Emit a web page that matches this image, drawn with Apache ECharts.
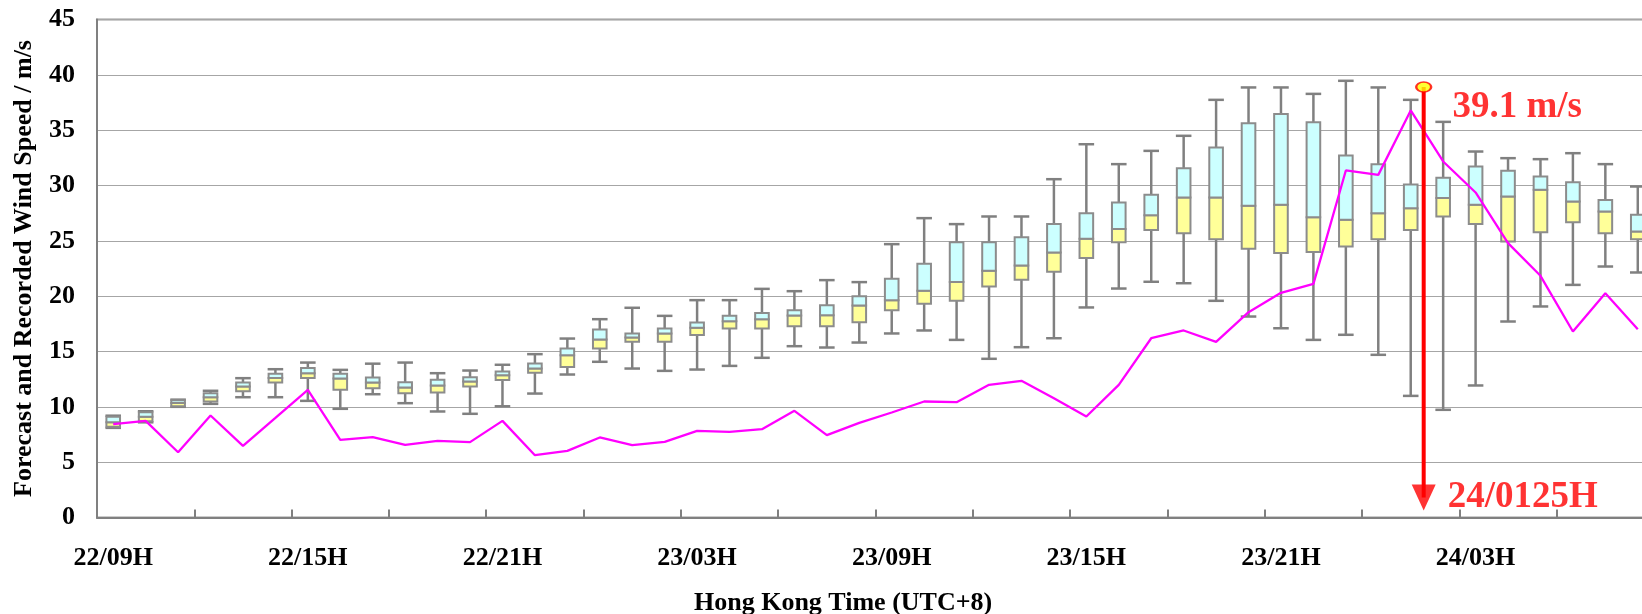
<!DOCTYPE html>
<html>
<head>
<meta charset="utf-8">
<script src="https://cdn.jsdelivr.net/npm/echarts@6/dist/echarts.min.js"></script>
<style>
html,body{margin:0;padding:0;background:#fff;}
#chart{width:1642px;height:614px;}
</style>
</head>
<body>
<div id="chart"></div>
<script>
// Hourly categories (Hong Kong time)
var categories = [
  "22/09H","22/10H","22/11H","22/12H","22/13H","22/14H","22/15H","22/16H","22/17H","22/18H","22/19H","22/20H",
  "22/21H","22/22H","22/23H","23/00H","23/01H","23/02H","23/03H","23/04H","23/05H","23/06H","23/07H","23/08H",
  "23/09H","23/10H","23/11H","23/12H","23/13H","23/14H","23/15H","23/16H","23/17H","23/18H","23/19H","23/20H",
  "23/21H","23/22H","23/23H","24/00H","24/01H","24/02H","24/03H","24/04H","24/05H","24/06H","24/07H","24/08H"
];
// Forecast distribution (m/s)
var whiskerMin = [8.1,8.6,10.0,10.27,10.87,10.87,10.54,9.82,11.14,10.33,9.58,9.37,
  10.05,11.2,12.92,14.07,13.46,13.25,13.37,13.7,14.43,15.48,15.36,15.81,
  16.63,16.9,16.05,14.34,15.39,16.2,18.98,20.69,21.3,21.17,19.58,18.16,
  17.1,16.05,16.51,14.7,10.99,9.73,11.93,17.71,19.07,21.02,22.68,22.14];
var quartile1 = [8.2,8.7,10.05,10.48,11.4,12.2,12.6,11.54,11.69,11.23,11.3,11.84,
  12.42,13.07,13.61,15.27,15.87,15.87,16.48,17.08,17.08,17.29,17.29,17.65,
  18.73,19.31,19.58,20.87,21.48,22.2,23.46,24.88,25.99,25.69,25.15,24.28,
  23.89,23.98,24.49,25.15,25.99,27.2,26.51,24.94,25.78,26.69,25.69,25.15];
var median = [8.6,9.1,10.35,10.87,11.84,12.6,13.04,12.56,12.2,11.75,11.93,12.29,
  12.85,13.46,14.67,16.08,16.27,16.63,17.14,17.74,17.92,18.25,18.28,19.16,
  19.64,20.48,21.27,22.29,22.77,23.95,25.18,26.08,27.32,28.92,28.92,28.16,
  28.25,27.14,26.9,27.5,27.95,28.86,28.25,29.01,29.61,28.55,27.65,25.84];
var quartile3 = [9.1,9.5,10.6,11.23,12.2,13.0,13.5,13.0,12.65,12.23,12.44,12.68,
  13.2,13.92,15.27,16.99,16.63,17.08,17.62,18.22,18.49,18.73,19.19,20.0,
  21.57,22.92,24.88,24.88,25.33,26.51,27.5,28.46,29.16,31.57,33.43,35.63,
  36.45,35.72,32.71,31.93,30.09,30.69,31.72,31.33,30.81,30.3,28.7,27.35];
var whiskerMax = [9.2,9.6,10.65,11.45,12.59,13.4,14.0,13.34,13.9,14.0,13.04,13.28,
  13.8,14.76,16.17,17.92,18.95,18.22,19.64,19.64,20.66,20.45,21.45,21.27,
  24.7,27.05,26.51,27.2,27.2,30.57,33.73,31.93,33.13,34.49,37.74,38.86,
  38.86,38.28,39.46,38.86,37.74,35.75,33.07,32.47,32.38,32.92,31.93,29.91];
// Recorded wind speed (m/s)
var recorded = [8.43,8.73,5.9,9.22,6.48,9.0,11.54,7.02,7.26,6.57,6.93,6.81,
  8.73,5.63,6.02,7.23,6.54,6.84,7.83,7.74,7.98,9.64,7.44,8.55,
  9.49,10.48,10.42,11.99,12.35,10.78,9.13,11.99,16.2,16.9,15.87,18.55,
  20.3,21.11,31.36,30.96,36.78,32.17,29.37,24.79,21.84,16.81,20.27,17.02];
// Peak annotation
var peakTimeIndex = 40.4;      // 24/0125H as fractional hour index
var peakMarkerValue = 38.9;
var peakLabel = "39.1 m/s";
var peakTimeLabel = "24/0125H";
var arrowTipValue = 1.8;
var yTicks = [0,5,10,15,20,25,30,35,40,45];

var boxData = categories.map(function(c, i){
  return [i, whiskerMin[i], quartile1[i], median[i], quartile3[i], whiskerMax[i]];
});

var GREY = '#808080';
var FONT = '"Liberation Serif","Times New Roman",serif';

var chart = echarts.init(document.getElementById('chart'), null, {renderer:'canvas'});
chart.setOption({
  animation: false,
  backgroundColor: '#ffffff',
  grid: {left: 97, top: 19.5, right: -12, bottom: 96.5, outerBoundsMode: 'none', containLabel: false,
    show: true, borderColor: '#999999', borderWidth: 2, backgroundColor: 'transparent'},
  xAxis: [{
    type: 'category',
    data: categories,
    boundaryGap: true,
    z: 10,
    axisLine: {lineStyle: {color: GREY, width: 2}},
    axisTick: {show: true, inside: true, length: 8, lineStyle: {color: GREY, width: 2},
      interval: function(i){ return i % 3 === 0; }},
    axisLabel: {interval: function(i){ return i % 6 === 0; }, margin: 28,
      fontFamily: FONT, fontWeight: 'bold', fontSize: 26, color: '#000'},
    splitLine: {show: false}
  },{
    type: 'value', min: -0.5, max: categories.length - 0.5, show: false
  }],
  yAxis: {
    type: 'value', min: yTicks[0], max: yTicks[yTicks.length-1], interval: 5,
    name: 'Forecast and Recorded Wind Speed / m/s',
    nameLocation: 'middle', nameGap: 60, nameRotate: 90,
    nameTextStyle: {fontFamily: FONT, fontWeight: 'bold', fontSize: 26, color: '#000'},
    axisLine: {show: true, onZero: false, lineStyle: {color: GREY, width: 2}},
    axisTick: {show: false},
    axisLabel: {margin: 22, fontFamily: FONT, fontWeight: 'bold', fontSize: 26, color: '#000'},
    splitLine: {lineStyle: {color: '#a6a6a6', width: 1.2}}
  },
  graphic: [{
    type: 'text', left: 844 - 150, top: 590,
    style: {text: 'Hong Kong Time (UTC+8)', font: 'bold 26px ' + FONT, fill: '#000', width: 300, align: 'center'}
  }],
  series: [{
    type: 'custom',
    xAxisIndex: 0,
    data: boxData,
    z: 2,
    renderItem: function(params, api){
      var idx = api.value(0);
      var pMin = api.coord([idx, api.value(1)]);
      var pQ1 = api.coord([idx, api.value(2)]);
      var pMed = api.coord([idx, api.value(3)]);
      var pQ3 = api.coord([idx, api.value(4)]);
      var pMax = api.coord([idx, api.value(5)]);
      var band = api.size([1, 0])[0];
      var bw = band * 0.42, cw = band * 0.48;
      var x = pMed[0];
      var lineStyle = {stroke: GREY, lineWidth: 2.5};
      return {type: 'group', children: [
        {type: 'line', shape: {x1: x, y1: pMin[1], x2: x, y2: pMax[1]}, style: lineStyle},
        {type: 'line', shape: {x1: x - cw/2, y1: pMin[1], x2: x + cw/2, y2: pMin[1]}, style: lineStyle},
        {type: 'line', shape: {x1: x - cw/2, y1: pMax[1], x2: x + cw/2, y2: pMax[1]}, style: lineStyle},
        {type: 'rect', shape: {x: x - bw/2, y: pMed[1], width: bw, height: pQ1[1] - pMed[1]},
          style: {fill: '#FFFF99', stroke: '#8c8c8c', lineWidth: 2}},
        {type: 'rect', shape: {x: x - bw/2, y: pQ3[1], width: bw, height: pMed[1] - pQ3[1]},
          style: {fill: '#CCFFFF', stroke: '#8c8c8c', lineWidth: 2}}
      ]};
    }
  },{
    type: 'line',
    xAxisIndex: 0,
    data: recorded,
    symbol: 'none',
    z: 3,
    lineStyle: {color: '#FF00FF', width: 2.3}
  },{
    type: 'line',
    xAxisIndex: 1,
    data: [[peakTimeIndex, peakMarkerValue], [peakTimeIndex, arrowTipValue]],
    symbol: 'none',
    z: 4,
    lineStyle: {color: '#FF0000', width: 4}
  },{
    type: 'scatter',
    xAxisIndex: 1,
    z: 5,
    data: [{
      value: [peakTimeIndex, arrowTipValue],
      symbol: 'triangle', symbolRotate: 180, symbolSize: [24, 26],
      itemStyle: {color: '#FF0000'},
      label: {show: true, position: 'right', distance: 12, offset: [0, 0], formatter: peakTimeLabel,
        fontFamily: FONT, fontWeight: 'bold', fontSize: 37, color: '#FF0000'}
    },{
      value: [peakTimeIndex, peakMarkerValue],
      symbol: 'circle', symbolSize: [15, 10],
      itemStyle: {color: '#FFFF00', borderColor: '#FF0000', borderWidth: 2},
      label: {show: true, position: 'right', distance: 20, offset: [0, 20], formatter: peakLabel,
        fontFamily: FONT, fontWeight: 'bold', fontSize: 37, color: '#FF0000'}
    }]
  }]
});
</script>
</body>
</html>
